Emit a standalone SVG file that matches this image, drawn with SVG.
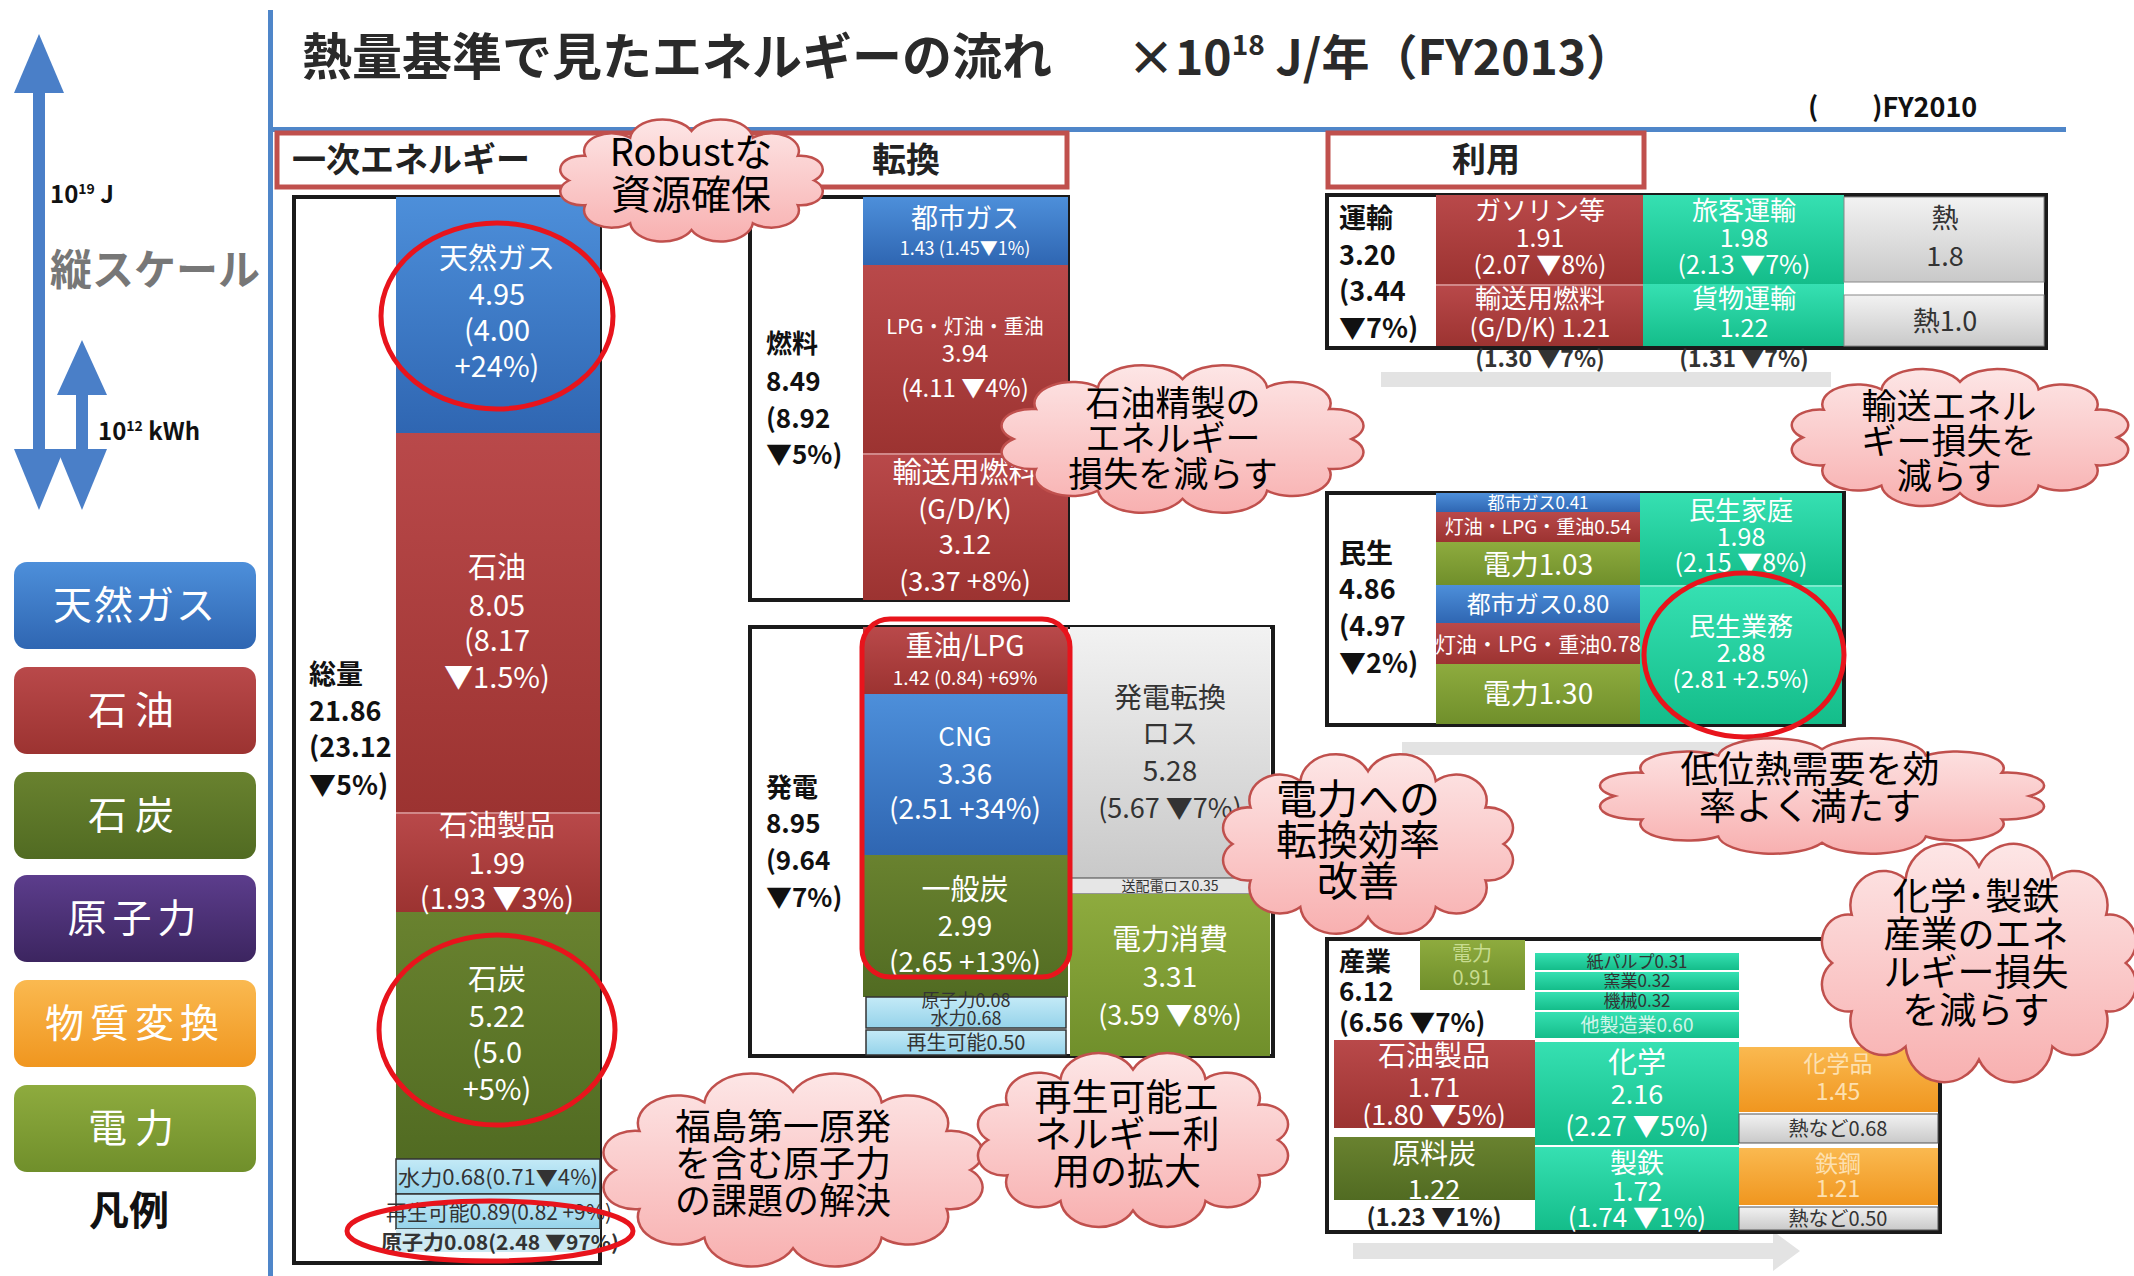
<svg xmlns="http://www.w3.org/2000/svg" width="2134" height="1276" viewBox="0 0 2134 1276">
<defs>
<style>
text{font-family:"Noto Sans CJK JP","Liberation Sans",sans-serif}
.w{fill:#fff;text-anchor:middle}
.d{fill:#333;text-anchor:middle}
.lb{fill:#111;font-weight:bold}
.cl{fill:#000;text-anchor:middle}
.frame{fill:#fff;stroke:#1a1a1a;stroke-width:4}
.hdr{fill:#fff;stroke:#c0504d;stroke-width:5}
.cloud{stroke:#c0504d;stroke-width:2.5;fill:url(#gCloud)}
.ring{fill:none;stroke:#e8141c;stroke-width:5}
.sep{stroke:#fff;stroke-opacity:.35;stroke-width:2}
</style>
<linearGradient id="gBlue" x1="0" y1="0" x2="0" y2="1"><stop offset="0" stop-color="#4d8fda"/><stop offset="1" stop-color="#2f66b2"/></linearGradient>
<linearGradient id="gRed" x1="0" y1="0" x2="0" y2="1"><stop offset="0" stop-color="#b9494a"/><stop offset="1" stop-color="#9c3331"/></linearGradient>
<linearGradient id="gDG" x1="0" y1="0" x2="0" y2="1"><stop offset="0" stop-color="#69822f"/><stop offset="1" stop-color="#516b22"/></linearGradient>
<linearGradient id="gLG" x1="0" y1="0" x2="0" y2="1"><stop offset="0" stop-color="#8eab3e"/><stop offset="1" stop-color="#708f2b"/></linearGradient>
<linearGradient id="gTeal" x1="0" y1="0" x2="0" y2="1"><stop offset="0" stop-color="#36e0b2"/><stop offset="1" stop-color="#14bd8a"/></linearGradient>
<linearGradient id="gGray" x1="0" y1="0" x2="0" y2="1"><stop offset="0" stop-color="#f2f2f2"/><stop offset="1" stop-color="#c9c9c9"/></linearGradient>
<linearGradient id="gLB" x1="0" y1="0" x2="0" y2="1"><stop offset="0" stop-color="#c4eaf7"/><stop offset="1" stop-color="#95d3ea"/></linearGradient>
<linearGradient id="gOr" x1="0" y1="0" x2="0" y2="1"><stop offset="0" stop-color="#fab950"/><stop offset="1" stop-color="#f0961f"/></linearGradient>
<linearGradient id="gPu" x1="0" y1="0" x2="0" y2="1"><stop offset="0" stop-color="#5c3d8c"/><stop offset="1" stop-color="#3c2560"/></linearGradient>
<linearGradient id="gCloud" x1="0" y1="0" x2="0" y2="1"><stop offset="0" stop-color="#fde6e6"/><stop offset="1" stop-color="#f8b0b0"/></linearGradient>
<path id="cloudShape" class="cloud" vector-effect="non-scaling-stroke" d="M148,60 A12.9,12.9 0 0 1 138.4,83 A16.3,16.3 0 0 1 112,99.8 A19,19 0 0 1 76,106 A19,19 0 0 1 40,99.8 A16.3,16.3 0 0 1 13.6,83 A12.9,12.9 0 0 1 4,60 A12.9,12.9 0 0 1 13.6,37 A16.3,16.3 0 0 1 40,20.2 A19,19 0 0 1 76,14 A19,19 0 0 1 112,20.2 A16.3,16.3 0 0 1 138.4,37 A12.9,12.9 0 0 1 148,60 Z"/>
</defs>
<rect width="2134" height="1276" fill="#fff"/>

<!-- title & rules -->
<g id="title">
<text x="302" y="75" font-size="50" font-weight="bold" fill="#2a2a2a">熱量基準で見たエネルギーの流れ</text>
<text x="1127" y="75" font-size="48" font-weight="bold" fill="#2a2a2a">×10<tspan dy="-20" font-size="28">18</tspan><tspan dy="20"> J/年（FY2013）</tspan></text>
<text x="1808" y="117" font-size="27" font-weight="bold" fill="#111">(　　)FY2010</text>
</g>
<g id="rules" fill="#4f86c9">
<rect x="268" y="10" width="5" height="1266"/>
<rect x="268" y="127" width="1798" height="5"/>
</g>

<!-- scale arrows -->
<g id="scale" fill="#4a7fc8">
<rect x="33" y="88" width="12" height="366"/>
<polygon points="39,34 14,93 64,93"/>
<polygon points="39,510 14,449 64,449"/>
<rect x="76" y="390" width="12" height="64"/>
<polygon points="82,340 57,395 107,395"/>
<polygon points="82,510 57,449 107,449"/>
<text x="50" y="203" font-size="24" font-weight="bold" fill="#111">10<tspan dy="-9" font-size="14">19</tspan><tspan dy="9"> J</tspan></text>
<text x="50" y="285" font-size="42" font-weight="bold" fill="#777">縦スケール</text>
<text x="98" y="440" font-size="24" font-weight="bold" fill="#111">10<tspan dy="-9" font-size="14">12</tspan><tspan dy="9"> kWh</tspan></text>
</g>

<!-- legend -->
<g id="legend">
<rect x="14" y="562" width="242" height="87" rx="13" fill="url(#gBlue)"/>
<rect x="14" y="667" width="242" height="87" rx="13" fill="url(#gRed)"/>
<rect x="14" y="772" width="242" height="87" rx="13" fill="url(#gDG)"/>
<rect x="14" y="875" width="242" height="87" rx="13" fill="url(#gPu)"/>
<rect x="14" y="980" width="242" height="87" rx="13" fill="url(#gOr)"/>
<rect x="14" y="1085" width="242" height="87" rx="13" fill="url(#gLG)"/>
<g font-size="39" class="w">
<text x="135" y="619" letter-spacing="2">天然ガス</text>
<text x="135" y="724" letter-spacing="8">石油</text>
<text x="135" y="829" letter-spacing="8">石炭</text>
<text x="135" y="932" letter-spacing="6">原子力</text>
<text x="135" y="1037" letter-spacing="6">物質変換</text>
<text x="135" y="1142" letter-spacing="8">電力</text>
</g>
<text x="129" y="1225" font-size="40" font-weight="bold" fill="#111" text-anchor="middle">凡例</text>
</g>

<!-- headers -->
<g id="hdr-primary-conv">
<rect class="hdr" x="277" y="133" width="790" height="54"/>
<text x="292" y="172" font-size="34" font-weight="bold" fill="#222">一次エネルギー</text>
<text x="872" y="172" font-size="34" font-weight="bold" fill="#222">転換</text>
</g>
<g id="hdr-use">
<rect class="hdr" x="1328" y="133" width="316" height="54"/>
<text x="1486" y="172" font-size="34" font-weight="bold" fill="#222" text-anchor="middle">利用</text>
</g>

<!-- primary energy -->
<g id="primary">
<rect class="frame" x="294" y="197" width="306" height="1066"/>
<rect x="396" y="197" width="204" height="236" fill="url(#gBlue)"/>
<rect x="396" y="433" width="204" height="379" fill="url(#gRed)"/>
<rect x="396" y="812" width="204" height="100" fill="url(#gRed)"/>
<line class="sep" x1="396" y1="813" x2="600" y2="813"/>
<rect x="396" y="912" width="204" height="247" fill="url(#gDG)"/>
<rect x="396" y="1159" width="204" height="35" fill="url(#gLB)" stroke="#333" stroke-width="1.5"/>
<rect x="396" y="1194" width="204" height="35" fill="url(#gLB)" stroke="#333" stroke-width="1.5"/>
<rect x="396" y="1229" width="204" height="23" fill="#cde9f2"/>
<g font-size="29" class="w">
<text x="497" y="269">天然ガス</text><text x="497" y="305">4.95</text><text x="497" y="341">(4.00</text><text x="497" y="377">+24%)</text>
<text x="497" y="578">石油</text><text x="497" y="616">8.05</text><text x="497" y="651">(8.17</text><text x="497" y="688">▼1.5%)</text>
<text x="497" y="836">石油製品</text><text x="497" y="874">1.99</text><text x="497" y="909">(1.93 ▼3%)</text>
<text x="497" y="990">石炭</text><text x="497" y="1027">5.22</text><text x="497" y="1063">(5.0</text><text x="497" y="1100">+5%)</text>
</g>
<text x="398" y="1185" font-size="21" fill="#333" textLength="200" lengthAdjust="spacingAndGlyphs">水力0.68(0.71▼4%)</text>
<text x="386" y="1220" font-size="21" fill="#333" textLength="226" lengthAdjust="spacingAndGlyphs">再生可能0.89(0.82 +9%)</text>
<text x="381" y="1250" font-size="20" font-weight="bold" fill="#333" textLength="238" lengthAdjust="spacingAndGlyphs">原子力0.08(2.48 ▼97%)</text>
<g class="lb" font-size="27">
<text x="309" y="684">総量</text><text x="309" y="721">21.86</text><text x="309" y="757">(23.12</text><text x="309" y="795">▼5%)</text>
</g>
<ellipse class="ring" cx="497" cy="316" rx="116" ry="93"/>
<ellipse class="ring" cx="497" cy="1030" rx="118" ry="95"/>
<ellipse class="ring" cx="490" cy="1231" rx="143" ry="30"/>
</g>

<!-- conversion: fuel -->
<g id="conv-fuel">
<rect class="frame" x="750" y="197" width="318" height="403"/>
<rect x="863" y="197" width="205" height="68" fill="url(#gBlue)"/>
<rect x="863" y="265" width="205" height="188" fill="url(#gRed)"/>
<rect x="863" y="453" width="205" height="147" fill="url(#gRed)"/>
<line class="sep" x1="863" y1="454" x2="1068" y2="454"/>
<text class="w" x="965" y="228" font-size="27">都市ガス</text>
<text class="w" x="965" y="255" font-size="18">1.43 (1.45▼1%)</text>
<text class="w" x="965" y="334" font-size="20">LPG・灯油・重油</text>
<text class="w" x="965" y="362" font-size="24">3.94</text>
<text class="w" x="965" y="397" font-size="24">(4.11 ▼4%)</text>
<text class="w" x="965" y="483" font-size="29">輸送用燃料</text>
<text class="w" x="965" y="519" font-size="27">(G/D/K)</text>
<text class="w" x="965" y="554" font-size="27">3.12</text>
<text class="w" x="965" y="591" font-size="27">(3.37 +8%)</text>
<g class="lb" font-size="26">
<text x="766" y="353">燃料</text><text x="766" y="391">8.49</text><text x="766" y="428">(8.92</text><text x="766" y="464">▼5%)</text>
</g>
</g>

<!-- conversion: power -->
<g id="conv-power">
<rect class="frame" x="750" y="627" width="523" height="429"/>
<rect x="863" y="627" width="205" height="67" fill="url(#gRed)"/>
<rect x="863" y="694" width="205" height="161" fill="url(#gBlue)"/>
<rect x="863" y="855" width="205" height="142" fill="url(#gDG)"/>
<rect x="866" y="997" width="200" height="31" fill="url(#gLB)" stroke="#333" stroke-width="1.5"/>
<rect x="866" y="1030" width="200" height="25" fill="url(#gLB)" stroke="#333" stroke-width="1.5"/>
<rect x="1070" y="627" width="200" height="251" fill="url(#gGray)"/>
<rect x="1070" y="878" width="200" height="16" fill="#e6e6e6" stroke="#444" stroke-width="1"/>
<rect x="1070" y="894" width="200" height="162" fill="url(#gLG)"/>
<text class="w" x="965" y="656" font-size="28">重油/LPG</text>
<text class="w" x="965" y="685" font-size="19">1.42 (0.84) +69%</text>
<text class="w" x="965" y="746" font-size="26">CNG</text>
<text class="w" x="965" y="784" font-size="28">3.36</text>
<text class="w" x="965" y="819" font-size="28">(2.51 +34%)</text>
<text class="w" x="965" y="900" font-size="29">一般炭</text>
<text class="w" x="965" y="936" font-size="28">2.99</text>
<text class="w" x="965" y="972" font-size="28">(2.65 +13%)</text>
<text class="d" x="966" y="1007" font-size="18">原子力0.08</text>
<text class="d" x="966" y="1025" font-size="18">水力0.68</text>
<text class="d" x="966" y="1050" font-size="20">再生可能0.50</text>
<text class="d" x="1170" y="708" font-size="28">発電転換</text>
<text class="d" x="1170" y="744" font-size="28">ロス</text>
<text class="d" x="1170" y="781" font-size="28">5.28</text>
<text class="d" x="1170" y="818" font-size="27">(5.67 ▼7%)</text>
<text class="d" x="1170" y="891" font-size="14">送配電ロス0.35</text>
<text class="w" x="1170" y="950" font-size="29">電力消費</text>
<text class="w" x="1170" y="987" font-size="28">3.31</text>
<text class="w" x="1170" y="1025" font-size="27">(3.59 ▼8%)</text>
<g class="lb" font-size="26">
<text x="766" y="797">発電</text><text x="766" y="833">8.95</text><text x="766" y="870">(9.64</text><text x="766" y="907">▼7%)</text>
</g>
<rect class="ring" x="862" y="619" width="208" height="358" rx="28"/>
</g>

<!-- use: transport -->
<g id="use-transport">
<rect x="1381" y="372" width="450" height="15" fill="#e3e3e3"/>
<rect class="frame" x="1327" y="195" width="719" height="153"/>
<rect x="1436" y="195" width="207" height="89" fill="url(#gRed)"/>
<rect x="1436" y="284" width="207" height="62" fill="url(#gRed)"/>
<line class="sep" x1="1436" y1="285" x2="1643" y2="285"/>
<rect x="1643" y="195" width="201" height="89" fill="url(#gTeal)"/>
<rect x="1643" y="284" width="201" height="62" fill="url(#gTeal)"/>
<rect x="1844" y="197" width="200" height="85" fill="url(#gGray)" stroke="#888" stroke-width="1"/>
<rect x="1844" y="295" width="200" height="51" fill="url(#gGray)" stroke="#888" stroke-width="1"/>
<text class="w" x="1540" y="220" font-size="26">ガソリン等</text>
<text class="w" x="1540" y="247" font-size="25">1.91</text>
<text class="w" x="1540" y="274" font-size="25">(2.07 ▼8%)</text>
<text class="w" x="1540" y="308" font-size="26">輸送用燃料</text>
<text class="w" x="1540" y="337" font-size="25">(G/D/K) 1.21</text>
<text class="w" x="1744" y="220" font-size="26">旅客運輸</text>
<text class="w" x="1744" y="247" font-size="25">1.98</text>
<text class="w" x="1744" y="274" font-size="25">(2.13 ▼7%)</text>
<text class="w" x="1744" y="308" font-size="26">貨物運輸</text>
<text class="w" x="1744" y="337" font-size="25">1.22</text>
<text class="d" x="1945" y="228" font-size="27">熱</text>
<text class="d" x="1945" y="266" font-size="27">1.8</text>
<text class="d" x="1945" y="331" font-size="27">熱1.0</text>
<text x="1540" y="367" font-size="23" font-weight="bold" fill="#333" text-anchor="middle">(1.30 ▼7%)</text>
<text x="1744" y="367" font-size="23" font-weight="bold" fill="#333" text-anchor="middle">(1.31 ▼7%)</text>
<g class="lb" font-size="27">
<text x="1339" y="228">運輸</text><text x="1339" y="265">3.20</text><text x="1339" y="301">(3.44</text><text x="1339" y="338">▼7%)</text>
</g>
</g>

<!-- use: residential/commercial -->
<g id="use-minsei">
<rect x="1402" y="742" width="340" height="13" fill="#e3e3e3"/>
<rect class="frame" x="1327" y="493" width="517" height="232"/>
<rect x="1436" y="493" width="204" height="19" fill="url(#gBlue)"/>
<rect x="1436" y="512" width="204" height="30" fill="url(#gRed)"/>
<rect x="1436" y="542" width="204" height="43" fill="url(#gLG)"/>
<rect x="1436" y="585" width="204" height="38" fill="url(#gBlue)"/>
<rect x="1436" y="623" width="204" height="41" fill="url(#gRed)"/>
<rect x="1436" y="664" width="204" height="60" fill="url(#gLG)"/>
<rect x="1640" y="493" width="202" height="92" fill="url(#gTeal)"/>
<rect x="1640" y="585" width="202" height="139" fill="url(#gTeal)"/>
<line class="sep" x1="1640" y1="586" x2="1842" y2="586"/>
<text class="w" x="1538" y="509" font-size="17">都市ガス0.41</text>
<text class="w" x="1538" y="534" font-size="19">灯油・LPG・重油0.54</text>
<text class="w" x="1538" y="575" font-size="28">電力1.03</text>
<text class="w" x="1538" y="613" font-size="24">都市ガス0.80</text>
<text class="w" x="1538" y="652" font-size="21">灯油・LPG・重油0.78</text>
<text class="w" x="1538" y="704" font-size="28">電力1.30</text>
<text class="w" x="1741" y="520" font-size="26">民生家庭</text>
<text class="w" x="1741" y="546" font-size="25">1.98</text>
<text class="w" x="1741" y="572" font-size="25">(2.15 ▼8%)</text>
<text class="w" x="1741" y="636" font-size="26">民生業務</text>
<text class="w" x="1741" y="662" font-size="25">2.88</text>
<text class="w" x="1741" y="688" font-size="24">(2.81 +2.5%)</text>
<g class="lb" font-size="27">
<text x="1339" y="563">民生</text><text x="1339" y="599">4.86</text><text x="1339" y="636">(4.97</text><text x="1339" y="673">▼2%)</text>
</g>
<ellipse class="ring" cx="1744" cy="655" rx="100" ry="82"/>
</g>

<!-- use: industry -->
<g id="use-industry">
<rect x="1353" y="1243" width="420" height="16" fill="#e3e3e3"/>
<polygon points="1773,1231 1800,1251 1773,1271" fill="#e3e3e3"/>
<rect class="frame" x="1327" y="939" width="613" height="293"/>
<rect x="1420" y="940" width="105" height="50" fill="url(#gLG)"/>
<rect x="1334" y="1040" width="201" height="88" fill="url(#gRed)"/>
<rect x="1334" y="1137" width="201" height="63" fill="url(#gDG)"/>
<rect x="1535" y="953" width="204" height="17" fill="url(#gTeal)"/>
<rect x="1535" y="972" width="204" height="18" fill="url(#gTeal)"/>
<rect x="1535" y="992" width="204" height="18" fill="url(#gTeal)"/>
<rect x="1535" y="1012" width="204" height="26" fill="url(#gTeal)"/>
<rect x="1535" y="1042" width="204" height="103" fill="url(#gTeal)"/>
<rect x="1535" y="1147" width="204" height="83" fill="url(#gTeal)"/>
<rect x="1739" y="1047" width="199" height="65" fill="url(#gOr)"/>
<rect x="1739" y="1114" width="199" height="29" fill="url(#gGray)" stroke="#555" stroke-width="1"/>
<rect x="1739" y="1148" width="199" height="57" fill="url(#gOr)"/>
<rect x="1739" y="1207" width="199" height="23" fill="url(#gGray)" stroke="#555" stroke-width="1"/>
<text x="1472" y="961" font-size="20" fill="#c8dc90" text-anchor="middle">電力</text>
<text x="1472" y="985" font-size="20" fill="#c8dc90" text-anchor="middle">0.91</text>
<text class="w" x="1434" y="1066" font-size="28">石油製品</text>
<text class="w" x="1434" y="1097" font-size="27">1.71</text>
<text class="w" x="1434" y="1125" font-size="27">(1.80 ▼5%)</text>
<text class="w" x="1434" y="1164" font-size="28">原料炭</text>
<text class="w" x="1434" y="1199" font-size="27">1.22</text>
<text x="1434" y="1226" font-size="24" font-weight="bold" fill="#222" text-anchor="middle">(1.23 ▼1%)</text>
<text class="d" x="1637" y="968" font-size="17">紙パルプ0.31</text>
<text class="d" x="1637" y="987" font-size="17">窯業0.32</text>
<text class="d" x="1637" y="1007" font-size="17">機械0.32</text>
<text class="w" x="1637" y="1032" font-size="19" fill-opacity=".8">他製造業0.60</text>
<text class="w" x="1637" y="1073" font-size="29">化学</text>
<text class="w" x="1637" y="1104" font-size="27">2.16</text>
<text class="w" x="1637" y="1136" font-size="27">(2.27 ▼5%)</text>
<text class="w" x="1637" y="1173" font-size="27">製鉄</text>
<text class="w" x="1637" y="1201" font-size="26">1.72</text>
<text class="w" x="1637" y="1227" font-size="26">(1.74 ▼1%)</text>
<text x="1838" y="1072" font-size="23" fill="#fde0b0" text-anchor="middle">化学品</text>
<text x="1838" y="1100" font-size="23" fill="#fde0b0" text-anchor="middle">1.45</text>
<text class="d" x="1838" y="1136" font-size="20">熱など0.68</text>
<text x="1838" y="1172" font-size="23" fill="#fde0b0" text-anchor="middle">鉄鋼</text>
<text x="1838" y="1197" font-size="23" fill="#fde0b0" text-anchor="middle">1.21</text>
<text class="d" x="1838" y="1226" font-size="20">熱など0.50</text>
<g class="lb" font-size="26">
<text x="1339" y="971">産業</text><text x="1339" y="1001">6.12</text><text x="1339" y="1032">(6.56 ▼7%)</text>
</g>
</g>

<!-- clouds -->
<g id="cloud-robust">
<use href="#cloudShape" transform="translate(562,116) scale(1.704,1.075)"/>
<text class="cl" x="691" y="166" font-size="38">Robustな</text>
<text class="cl" x="691" y="209" font-size="40">資源確保</text>
</g>
<g id="cloud-refine">
<use href="#cloudShape" transform="translate(1004,361) scale(2.349,1.3)"/>
<text class="cl" x="1173" y="416" font-size="35">石油精製の</text>
<text class="cl" x="1173" y="451" font-size="35">エネルギー</text>
<text class="cl" x="1173" y="487" font-size="35">損失を減らす</text>
</g>
<g id="cloud-transport">
<use href="#cloudShape" transform="translate(1794,365) scale(2.184,1.208)"/>
<text class="cl" x="1949" y="419" font-size="35">輸送エネル</text>
<text class="cl" x="1949" y="454" font-size="35">ギー損失を</text>
<text class="cl" x="1949" y="489" font-size="35">減らす</text>
</g>
<g id="cloud-power">
<use href="#cloudShape" transform="translate(1225,749) scale(1.882,1.583)"/>
<text class="cl" x="1358" y="814" font-size="41">電力への</text>
<text class="cl" x="1358" y="855" font-size="41">転換効率</text>
<text class="cl" x="1358" y="896" font-size="41">改善</text>
</g>
<g id="cloud-lowheat">
<use href="#cloudShape" transform="translate(1603,735) scale(2.882,1.017)"/>
<text class="cl" x="1810" y="783" font-size="37">低位熱需要を効</text>
<text class="cl" x="1810" y="820" font-size="37">率よく満たす</text>
</g>
<g id="cloud-industry">
<use href="#cloudShape" transform="translate(1824,837) scale(2.039,2.1)"/>
<text class="cl" x="1976" y="910" font-size="37">化学･製鉄</text>
<text class="cl" x="1976" y="948" font-size="37">産業のエネ</text>
<text class="cl" x="1976" y="986" font-size="37">ルギー損失</text>
<text class="cl" x="1976" y="1024" font-size="37">を減らす</text>
</g>
<g id="cloud-nuclear">
<use href="#cloudShape" transform="translate(606,1068) scale(2.461,1.7)"/>
<text class="cl" x="783" y="1140" font-size="36">福島第一原発</text>
<text class="cl" x="783" y="1177" font-size="36">を含む原子力</text>
<text class="cl" x="783" y="1214" font-size="36">の課題の解決</text>
</g>
<g id="cloud-renew">
<use href="#cloudShape" transform="translate(980,1048) scale(2.013,1.533)"/>
<text class="cl" x="1127" y="1111" font-size="37">再生可能エ</text>
<text class="cl" x="1127" y="1148" font-size="37">ネルギー利</text>
<text class="cl" x="1127" y="1185" font-size="37">用の拡大</text>
</g>
</svg>
